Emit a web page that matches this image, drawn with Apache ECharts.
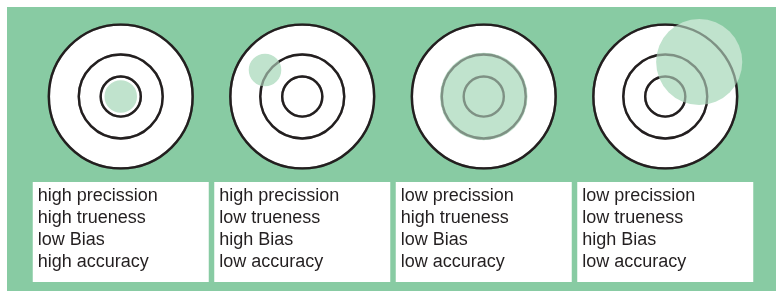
<!DOCTYPE html>
<html>
<head>
<meta charset="utf-8">
<style>
  html, body { margin: 0; padding: 0; background: #fff; }
  #main { width: 776px; height: 291px; }
</style>
<script src="https://cdn.jsdelivr.net/npm/echarts@6/dist/echarts.min.js"></script>
</head>
<body>
<div id="main"></div>
<script>
// targets, left to right
let targets = [0, 1, 2, 3];
// where the shots landed, offset from the bull in units of the outer ring radius (x right, y up)
let hitDx = [0, -0.51, 0, 0.465];
let hitDy = [0, 0.363, 0, 0.473];
// spread of the shots (radius of the cluster, same units)
let hitR = [0.223, 0.223, 0.6, 0.59];
// ring radii, same units
let rings = [0.985, 0.575, 0.275];

// text under each target
let precision = ['high', 'high', 'low', 'low'];
let trueness = ['high', 'low', 'high', 'low'];
let bias = ['low', 'high', 'low', 'high'];
let accuracy = ['high', 'low', 'low', 'low'];

let ink = '#231f20';
let bg = '#88cba3';
let shot = '#c0e3cd';

let targetData = targets.map((t, i) => [t, 0, hitDx[i], hitDy[i], hitR[i]]);
let labelData = targets.map((t, i) => [t, -1.171, [
    precision[i] + ' precission',
    trueness[i] + ' trueness',
    bias[i] + ' Bias',
    accuracy[i] + ' accuracy'
].join('\n')]);

function renderTarget(params, api) {
    let c = api.coord([api.value(0), api.value(1)]);
    let unit = api.size([0, 1])[1];
    let children = [];
    // rings, outer first so the white fill sits behind
    rings.forEach(r => {
        children.push({
            type: 'circle',
            shape: { cx: c[0], cy: c[1], r: r * unit },
            style: { fill: '#fff', stroke: ink, lineWidth: 2.4 }
        });
    });
    // shot cluster
    children.push({
        type: 'circle',
        shape: { cx: c[0] + api.value(2) * unit, cy: c[1] - api.value(3) * unit, r: api.value(4) * unit },
        style: { fill: shot }
    });
    // rings show through the cluster
    rings.forEach(r => {
        children.push({
            type: 'circle',
            shape: { cx: c[0], cy: c[1], r: r * unit },
            style: { fill: null, stroke: ink, lineWidth: 2.4, opacity: 0.42 }
        });
    });
    return { type: 'group', children: children };
}

function renderLabel(params, api) {
    let c = api.coord([api.value(0), api.value(1)]);
    let w = 176, h = 100;
    return {
        type: 'group',
        children: [
            {
                type: 'rect',
                shape: { x: c[0] - w / 2, y: c[1], width: w, height: h },
                style: { fill: '#fff' }
            },
            {
                type: 'text',
                style: {
                    text: api.value(2),
                    x: c[0] - w / 2 + 5,
                    y: c[1] + 3,
                    fill: ink,
                    fontSize: 18,
                    fontFamily: '"Liberation Sans", Arial, sans-serif',
                    lineHeight: 22,
                    verticalAlign: 'top',
                    align: 'left'
                }
            }
        ]
    };
}

let option = {
    backgroundColor: '#fff',
    animation: false,
    graphic: [{
        type: 'rect',
        z: -10,
        shape: { x: 7, y: 7, width: 769, height: 284 },
        style: { fill: bg }
    }],
    grid: { left: 30, right: 20, top: 5.25, bottom: 1.05 },
    xAxis: { type: 'value', min: -0.5, max: 3.5, show: false },
    yAxis: { type: 'value', min: -2.65, max: 1.25, show: false },
    series: [
        {
            type: 'custom',
            silent: true,
            clip: false,
            renderItem: renderTarget,
            encode: { x: 0, y: 1 },
            data: targetData
        },
        {
            type: 'custom',
            silent: true,
            clip: false,
            renderItem: renderLabel,
            encode: { x: 0, y: 1 },
            data: labelData
        }
    ]
};

let myChart = echarts.init(document.getElementById('main'), null, { renderer: 'canvas' });
myChart.setOption(option);
</script>
</body>
</html>
